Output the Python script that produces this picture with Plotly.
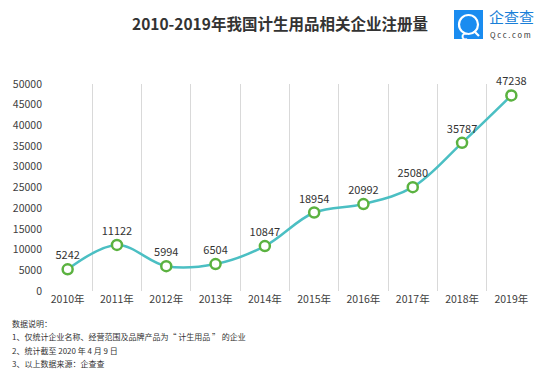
import plotly.graph_objects as go

years = ["2010年", "2011年", "2012年", "2013年", "2014年", "2015年", "2016年", "2017年", "2018年", "2019年"]
counts = [5242, 11122, 5994, 6504, 10847, 18954, 20992, 25080, 35787, 47238]
y_ticks = [0, 5000, 10000, 15000, 20000, 25000, 30000, 35000, 40000, 45000, 50000]

title_text = "2010-2019年我国计生用品相关企业注册量"
notes = [
    "数据说明：",
    "1、仅统计企业名称、经营范围及品牌产品为“ 计生用品 ” 的企业",
    "2、统计截至 2020 年 4 月 9 日",
    "3、以上数据来源：企查查",
]

FONT = "Noto Sans CJK SC"
L, R, T, B = 43, 536, 84, 291  # plot area in page pixels
W, H = R - L, B - T


def px(x):
    return (x - L) / W


def py(y):
    return (B - y) / H


fig = go.Figure()
fig.add_trace(go.Scatter(
    x=years, y=counts,
    mode="lines+markers+text",
    line=dict(color="#4BBFC3", width=2.5, shape="spline", smoothing=1),
    marker=dict(size=10, color="white", line=dict(color="#5BB240", width=2.5)),
    text=[str(v) for v in counts],
    textposition="top center",
    textfont=dict(family=FONT, size=11, color="#333333"),
    cliponaxis=False,
    hoverinfo="skip",
))

fig.update_layout(
    width=560, height=378,
    margin=dict(l=L, r=560 - R, t=T, b=378 - B, autoexpand=False),
    paper_bgcolor="white", plot_bgcolor="white",
    showlegend=False,
    font=dict(family=FONT, color="#333333"),
    xaxis=dict(
        type="category", range=[-0.5, 9.5],
        tickson="boundaries", showgrid=True, gridcolor="#D9D9D9", gridwidth=1,
        ticks="", showline=False, zeroline=False,
        tickfont=dict(family=FONT, size=10.5, color="#404040"),
    ),
    yaxis=dict(
        range=[0, 50000], tickvals=y_ticks, ticktext=[str(v) for v in y_ticks],
        showgrid=False, zeroline=False, showline=False, ticks="",
        tickfont=dict(family=FONT, size=10.5, color="#404040"),
    ),
)

# title
fig.add_annotation(
    x=px(280), y=py(23), xref="paper", yref="paper", xanchor="center", yanchor="middle",
    text="<b>" + title_text + "</b>", showarrow=False,
    font=dict(family=FONT, size=15.5, color="#333333"),
)

# notes
for i, line in enumerate(notes):
    fig.add_annotation(
        x=px(10), xref="paper", xanchor="left",
        y=py(323 + i * 13.5), yref="paper", yanchor="middle",
        text=line, showarrow=False,
        font=dict(family=FONT, size=8, color="#333333"),
    )

# logo (decorative)
fig.add_shape(type="rect", xref="paper", yref="paper",
              x0=px(454), x1=px(483), y0=py(39), y1=py(10),
              fillcolor="#1A8CF0", line=dict(width=0), layer="above")
fig.add_shape(type="circle", xref="paper", yref="paper",
              x0=px(459), x1=px(478), y0=py(34), y1=py(15),
              fillcolor="rgba(0,0,0,0)", line=dict(color="white", width=2.2), layer="above")
fig.add_shape(type="line", xref="paper", yref="paper",
              x0=px(474), x1=px(479), y0=py(31), y1=py(36),
              line=dict(color="white", width=2.2), layer="above")
fig.add_annotation(x=px(468.5), y=py(24), xref="paper", yref="paper",
                   text="<b>c</b>", showarrow=False,
                   font=dict(family=FONT, size=12, color="white"))
fig.add_annotation(x=px(487), y=py(17), xref="paper", yref="paper", xanchor="left",
                   yanchor="middle", text="企查查", showarrow=False,
                   font=dict(family=FONT, size=15, color="#1A7FD8"))
fig.add_annotation(x=px(488), y=py(34), xref="paper", yref="paper", xanchor="left",
                   yanchor="middle", text="Q c c . c o m", showarrow=False,
                   font=dict(family=FONT, size=7.5, color="#333333"))

fig.write_html("out.html", config={"displayModeBar": False},
               post_script="document.body.style.margin='0';")
